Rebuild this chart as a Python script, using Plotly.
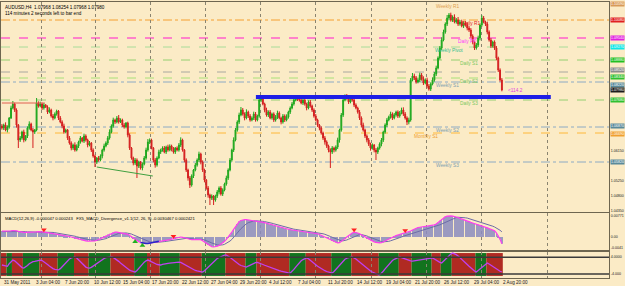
import plotly.graph_objects as go

# ---------------- data ----------------
first_open = 1.0690
close = [
    1.0684, 1.0693, 1.0678, 1.0687, 1.0714, 1.0744, 1.0756, 1.0738, 1.0693, 1.0648,
    1.0654, 1.0672, 1.0648, 1.0660, 1.0684, 1.0696, 1.0678, 1.0672, 1.0678, 1.0759,
    1.0750, 1.0756, 1.0744, 1.0753, 1.0747, 1.0732, 1.0738, 1.0720, 1.0714, 1.0726,
    1.0735, 1.0714, 1.0702, 1.0690, 1.0672, 1.0678, 1.0654, 1.0639, 1.0624, 1.0633,
    1.0618, 1.0630, 1.0642, 1.0654, 1.0645, 1.0660, 1.0648, 1.0633, 1.0639, 1.0618,
    1.0600, 1.0582, 1.0594, 1.0588, 1.0600, 1.0618, 1.0630, 1.0639, 1.0654, 1.0672,
    1.0690, 1.0708, 1.0702, 1.0714, 1.0702, 1.0708, 1.0693, 1.0687, 1.0699, 1.0663,
    1.0624, 1.0594, 1.0579, 1.0588, 1.0570, 1.0582, 1.0564, 1.0576, 1.0594, 1.0618,
    1.0642, 1.0648, 1.0624, 1.0588, 1.0573, 1.0594, 1.0612, 1.0618, 1.0624, 1.0612,
    1.0627, 1.0618, 1.0630, 1.0621, 1.0612, 1.0624, 1.0618, 1.0633, 1.0648, 1.0618,
    1.0588, 1.0558, 1.0534, 1.0513, 1.0540, 1.0558, 1.0573, 1.0588, 1.0606, 1.0582,
    1.0558, 1.0528, 1.0504, 1.0483, 1.0474, 1.0480, 1.0468, 1.0480, 1.0492, 1.0504,
    1.0486, 1.0498, 1.0516, 1.0534, 1.0558, 1.0588, 1.0618, 1.0648, 1.0678, 1.0702,
    1.0723, 1.0738, 1.0726, 1.0714, 1.0732, 1.0720, 1.0708, 1.0714, 1.0726, 1.0708,
    1.0720, 1.0768, 1.0774, 1.0756, 1.0738, 1.0723, 1.0732, 1.0714, 1.0726, 1.0708,
    1.0717, 1.0729, 1.0714, 1.0702, 1.0720, 1.0708, 1.0717, 1.0732, 1.0744, 1.0756,
    1.0768, 1.0774, 1.0771, 1.0768, 1.0759, 1.0768, 1.0756, 1.0744, 1.0762, 1.0750,
    1.0738, 1.0720, 1.0708, 1.0693, 1.0684, 1.0669, 1.0654, 1.0642, 1.0630, 1.0618,
    1.0612, 1.0624, 1.0618, 1.0627, 1.0648, 1.0678, 1.0723, 1.0768, 1.0780, 1.0774,
    1.0762, 1.0777, 1.0768, 1.0753, 1.0744, 1.0732, 1.0714, 1.0693, 1.0678, 1.0660,
    1.0648, 1.0636, 1.0624, 1.0633, 1.0618, 1.0612, 1.0624, 1.0636, 1.0648, 1.0672,
    1.0693, 1.0708, 1.0717, 1.0726, 1.0714, 1.0723, 1.0732, 1.0720, 1.0729, 1.0738,
    1.0726, 1.0714, 1.0702, 1.0708, 1.0828, 1.0840, 1.0834, 1.0822, 1.0828, 1.0843,
    1.0831, 1.0819, 1.0828, 1.0810, 1.0801, 1.0816, 1.0828, 1.0846, 1.0864, 1.0894,
    1.0924, 1.0948, 1.0972, 1.0996, 1.1014, 1.1023, 1.1008, 1.1017, 1.1002, 1.1008,
    1.0996, 1.1002, 1.0990, 1.0999, 1.0993, 1.0984, 1.0978, 1.0960, 1.0942, 1.0924,
    1.0933, 1.0954, 1.0993, 1.1014, 1.1002, 1.0996, 1.0972, 1.0948, 1.0930, 1.0942,
    1.0924, 1.0894, 1.0858, 1.0828, 1.0798,
]
# wick lengths in pips above / below the candle body
up_wick = [
    6, 4, 8, 5, 3, 7, 9, 4, 5, 3, 6, 4, 7, 3, 5, 8, 4, 6, 3, 15,
    5, 7, 4, 6, 3, 5, 8, 4, 6, 5, 4, 3, 6, 5, 7, 4, 3, 6, 5, 4,
    8, 5, 4, 6, 3, 7, 5, 4, 6, 3, 5, 4, 3, 6, 5, 4, 7, 5, 6, 8,
    5, 7, 4, 6, 9, 5, 4, 6, 3, 4, 5, 3, 4, 6, 5, 4, 3, 5, 6, 7,
    9, 5, 4, 3, 6, 5, 7, 4, 5, 6, 4, 7, 5, 4, 6, 3, 5, 6, 8, 4,
    3, 5, 4, 6, 5, 3, 6, 5, 7, 4, 5, 4, 3, 6, 4, 5, 3, 4, 6, 5,
    6, 5, 4, 7, 5, 6, 4, 8, 6, 5, 7, 9, 6, 5, 8, 4, 6, 5, 7, 6,
    4, 8, 6, 5, 4, 7, 5, 6, 4, 5, 6, 7, 5, 4, 6, 5, 8, 4, 5, 6,
    7, 5, 6, 4, 5, 8, 6, 4, 5, 6, 4, 5, 6, 4, 3, 5, 4, 6, 5, 4,
    5, 6, 4, 5, 7, 4, 6, 9, 5, 6, 7, 5, 4, 6, 5, 4, 6, 5, 7, 4,
    5, 6, 4, 5, 3, 6, 4, 5, 6, 4, 5, 6, 4, 7, 5, 6, 4, 5, 6, 7,
    8, 6, 5, 7, 6, 9, 7, 6, 5, 7, 6, 8, 5, 7, 6, 5, 8, 6, 7, 5,
    6, 8, 7, 5, 9, 6, 7, 5, 8, 6, 9, 6, 7, 5, 6, 8, 7, 6, 5, 4,
    6, 7, 5, 8, 6, 4, 7, 5, 6, 4, 5, 6, 4, 5, 6,
]
dn_wick = [
    5, 6, 4, 7, 5, 3, 4, 6, 8, 24, 6, 5, 7, 4, 6, 5, 4, 48, 6, 4,
    5, 4, 6, 5, 3, 6, 4, 5, 7, 4, 5, 6, 4, 7, 5, 4, 6, 5, 7, 6,
    5, 4, 6, 5, 4, 6, 5, 7, 4, 6, 5, 15, 6, 5, 4, 7, 5, 4, 6, 5,
    4, 5, 6, 4, 5, 3, 6, 5, 4, 7, 6, 5, 7, 6, 36, 6, 5, 7, 4, 5,
    5, 6, 4, 7, 8, 5, 4, 6, 5, 4, 6, 5, 4, 7, 5, 6, 4, 5, 6, 5,
    7, 6, 8, 9, 5, 6, 4, 5, 6, 7, 6, 7, 5, 8, 21, 6, 15, 5, 6, 7,
    5, 6, 4, 5, 6, 4, 5, 6, 4, 5, 6, 4, 5, 7, 4, 6, 5, 4, 6, 5,
    4, 5, 6, 4, 7, 5, 6, 4, 5, 6, 5, 6, 4, 7, 5, 6, 4, 5, 6, 4,
    5, 4, 6, 5, 4, 6, 5, 7, 4, 5, 6, 5, 4, 6, 7, 5, 6, 8, 6, 7,
    48, 6, 7, 5, 6, 8, 5, 6, 4, 5, 6, 4, 5, 6, 4, 5, 6, 7, 5, 6,
    7, 6, 8, 5, 7, 24, 6, 5, 7, 6, 5, 6, 4, 5, 6, 4, 5, 6, 5, 4,
    6, 5, 9, 7, 5, 4, 6, 5, 4, 6, 5, 6, 4, 7, 5, 6, 4, 5, 6, 4,
    5, 6, 4, 5, 6, 7, 5, 6, 4, 5, 6, 5, 4, 6, 5, 7, 6, 5, 7, 6,
    5, 6, 7, 5, 4, 6, 7, 5, 6, 5, 6, 7, 6, 5, 4,
]
# MACD main / signal in units of 0.0001
macd = [
    22, 22, 21, 21, 22, 23, 24, 24, 23, 21, 19, 18, 17, 17, 17, 17,
    17, 17, 18, 19, 20, 20, 19, 18,
    17, 16, 15, 14, 13, 12, 11, 10, 9, 8, 6, 5, 3, 2, 0, -2, -4,
    -6, -8, -10, -12, -13, -14, -15, -15, -15, -15, -14, -12, -9, -6,
    -3, 1, 5, 9, 12, 15, 17, 18,
    18, 17, 16, 15, 14, 13,
    10, 6, 1, -4, -9, -13, -17, -20,
    -22, -23, -24, -24, -23, -22, -21, -19,
    -17, -16, -15, -14, -13, -12, -11, -10,
    -8, -6, -4, -3, -1, 0,
    -1, -3, -5, -7, -9, -10, -10, -10, -9, -9, -10,
    -14, -19, -24, -29, -33, -36, -37, -36,
    -34, -31, -27, -22, -16, -9, -1, 8, 18, 28, 38, 48, 57,
    61, 63, 64, 64, 63, 62, 61, 60, 59,
    58, 58, 57, 55, 53, 51, 49, 47, 45, 43, 41, 39, 37, 35, 33, 31, 29, 28, 27,
    26, 25, 24, 23, 22, 21, 20, 19, 19, 18, 18, 17, 16, 14, 12, 9,
    6, 3, 0, -3, -7, -11, -15, -18, -20, -22, -21,
    -17, -12, -6, 0, 6, 11, 15, 18,
    17, 15, 12, 8, 4, 0, -4, -8, -12,
    -15, -18, -20, -22, -22, -21, -19, -15,
    -11, -7, -4, -1, 2, 5, 7, 9, 11, 13, 15,
    17, 19, 22, 26, 30, 33, 35, 36, 37, 38, 39, 40, 41, 42, 43, 45, 48, 53, 60,
    66, 71, 75, 77, 78, 78, 77, 76, 74, 72, 69,
    66, 63, 60, 58, 56, 54, 52, 50, 48, 46, 44,
    42, 40, 37, 34, 31, 28, 26, 23,
    15, 5, -8, -25,
]
signal = [
    20, 20, 20, 20, 21, 21, 22, 22, 22, 22, 22, 21, 20, 20, 19, 19,
    18, 18, 18, 18, 18, 19, 19, 19,
    19, 18, 18, 17, 17, 16, 15, 14, 13, 12, 11, 10, 9, 7, 6, 4, 3,
    1, -1, -3, -5, -6, -8, -9, -10, -11, -12, -13, -13, -12, -11,
    -10, -8, -6, -3, 0, 3, 6, 9,
    11, 13, 14, 15, 15, 15,
    14, 13, 11, 8, 5, 2, -2, -5,
    -8, -11, -14, -16, -18, -19, -20, -20,
    -20, -19, -19, -18, -17, -16, -15, -14,
    -13, -12, -10, -9, -8, -6,
    -5, -5, -5, -5, -6, -6, -7, -7, -8, -8, -8,
    -9, -11, -13, -16, -19, -22, -25, -27,
    -29, -30, -30, -29, -27, -24, -20, -15, -9, -2, 6, 14, 23,
    31, 38, 44, 49, 53, 56, 58, 59, 60,
    60, 60, 59, 58, 57, 56, 54, 53, 51, 49, 47, 45, 43, 41, 39, 37, 35, 33, 31,
    30, 29, 28, 27, 26, 25, 24, 23, 22, 21, 20, 20, 19, 18, 17, 16,
    14, 12, 10, 8, 5, 2, -1, -4, -7, -10, -12,
    -14, -14, -13, -11, -8, -5, -1, 3,
    6, 8, 9, 9, 8, 6, 4, 1, -2,
    -5, -8, -11, -13, -15, -17, -18, -18,
    -17, -16, -14, -12, -10, -7, -5, -2, 0, 3, 5,
    7, 9, 11, 13, 16, 18, 21, 23, 25, 27, 29, 31, 33, 35, 36, 38, 40, 42, 45,
    48, 51, 55, 58, 62, 65, 68, 70, 72, 73, 73,
    73, 72, 71, 70, 68, 66, 64, 62, 60, 58, 56,
    54, 52, 50, 47, 45, 42, 40, 37,
    34, 30, 25, 19,
]
# oscillator line of the lower coloured panel (0..100)
stoch = [
    50, 48, 46, 45, 55, 63, 69, 66, 60, 52, 45, 40, 38,
    42, 48, 55, 60, 63, 64, 66, 68, 69,
    67, 63, 58, 52, 46, 40, 36, 33, 32, 31,
    36, 44, 52, 60, 67, 73, 77, 80, 81,
    77, 70, 62, 54, 47, 42, 39, 38,
    41, 46, 52, 58, 63, 68, 72, 75, 78, 80, 81, 81,
    79, 75, 70, 64, 58, 52, 46, 40, 35, 30, 27, 24, 23,
    29, 38, 47, 55, 61, 66, 69,
    66, 62, 58, 55, 52, 51, 50,
    52, 54, 55, 56, 57, 58, 59, 60, 60, 61, 60,
    56, 51, 46, 42, 38, 34, 31, 29, 27, 25, 24, 23,
    28, 35, 43, 51, 58, 64, 70, 75, 79, 83, 86, 88, 88,
    85, 80, 74, 68, 62, 57, 52, 48, 45, 43, 42,
    46, 50, 54, 57, 59, 60,
    58, 55, 52, 49, 46, 43, 40, 37, 34, 32, 30, 28, 26, 24, 22, 21, 20, 19,
    25, 33, 42, 51, 59, 66, 71, 75, 77,
    74, 69, 63, 57, 51, 45, 40, 35, 31, 28, 25, 22, 20, 19,
    25, 33, 42, 51, 59, 66, 72, 76, 79, 80, 81,
    78, 73, 67, 61, 55, 49, 43, 37, 32, 27, 23, 19, 16, 13, 12,
    18, 26, 35, 44, 52, 60, 67, 72, 76, 79, 81,
    78, 75, 72, 69, 67, 66, 65,
    66, 67, 68, 70, 71, 72, 73, 74, 75, 76, 77,
    73, 68, 64, 60, 58,
    65, 73, 80, 86, 92, 96,
    94, 90, 85, 79, 73, 66, 59, 52, 45, 38, 32, 27, 23,
    29, 36, 43, 49, 54, 58,
    54, 49, 44, 39, 34, 30, 26, 23,
]
# coloured blocks of the lower panel: (first bar, last bar, colour)
band_segments = [
    (0, 3, "r"), (3, 6, "g"), (6, 12, "r"), (12, 21, "g"), (21, 31, "r"), (31, 40, "g"),
    (40, 48, "r"), (48, 60, "g"), (60, 73, "r"), (73, 80, "g"), (80, 87, "r"), (87, 98, "g"),
    (98, 110, "r"), (110, 123, "g"), (123, 134, "r"), (134, 140, "g"), (140, 158, "r"),
    (158, 167, "g"), (167, 181, "r"), (181, 192, "g"), (192, 207, "r"), (207, 218, "g"),
    (218, 225, "r"), (225, 236, "g"), (236, 241, "r"), (241, 247, "g"), (247, 260, "r"),
    (260, 266, "g"), (266, 275, "r"),
]
band_levels = [80, 15]
band_level_text = ["4.0000", "-4.000"]

# time labels: (bar index, text)
time_labels = [
    (0, "31 May 2011"), (19, "3 Jun 04:00"), (35, "7 Jun 20:00"), (51, "10 Jun 12:00"),
    (67, "15 Jun 04:00"), (83, "17 Jun 20:00"), (99, "22 Jun 12:00"), (115, "27 Jun 04:00"),
    (131, "29 Jun 20:00"), (147, "4 Jul 12:00"), (163, "7 Jul 04:00"), (179, "11 Jul 20:00"),
    (195, "14 Jul 12:00"), (211, "19 Jul 04:00"), (227, "21 Jul 20:00"), (243, "26 Jul 12:00"),
    (259, "29 Jul 04:00"), (275, "2 Aug 20:00"),
]
grid_bars = [21.5, 51.5, 81.6, 111.8, 141.9, 172.1, 202.7, 232.9, 263.0, 299.2]

price_ticks = [1.0435, 1.0480, 1.0525, 1.0570, 1.0615, 1.0660, 1.0705, 1.0750,
               1.0795, 1.0840, 1.0885, 1.0930, 1.0975, 1.1020]
macd_ticks = [77.1, 0, -41.5]
macd_tick_text = ["0.00771", "0.00", "-0.0041"]

# pivot levels: (label, price, line colour, dash, box colour, label bar, label colour, box nudge px)
pivots = [
    ("Weekly R1", 1.1059, None, None, "#D89A58", 237, "#E0A050", -1),
    ("Daily R1", 1.1008, "#F5A030", "dashdot", "#E02020", 251, "#E02020", 0),
    ("Daily PP", 1.0954, "#FF60CC", "dash", "#E020E0", 249, "#FF40FF", 0),
    ("Weekly Pivot", 1.0927, "#A8DC98", "dash", "#10E8E8", 236, "#30C090", 0),
    ("Daily S1", 1.0888, "#94D070", "dash", "#22C022", 250, "#7CC860", 0),
    ("", 1.0852, "#A8A8A0", "dash", "#8C8C8C", 0, "#888888", 2),
    ("Daily S2", 1.0834, "#A8E078", "dash", "#30C030", 250, "#7CC860", 1),
    ("Weekly S1", 1.0822, "#8CAAC4", "dashdot", "#5A8A9A", 237, "#80A0B0", -3),
    ("Daily S3", 1.0768, "#94D070", "dash", "#30C030", 250, "#7CC860", 0),
    ("Weekly S2", 1.0687, "#8CAAC4", "dashdot", "#5A8A9A", 237, "#80A0B0", 1),
    ("Monthly S1", 1.0669, "#FFB838", "dash", "#F0A030", 225, "#F0A030", -1),
    ("Weekly S3", 1.0582, "#8CAAC4", "dashdot", "#5A8A9A", 237, "#80A0B0", 0),
]
# hand-drawn lines: (bar0, price0, bar1, price1, colour, width)
drawn_lines = [
    (139.2, 1.0777, 300.8, 1.0777, "#1E1EE6", 4),
    (0.0, 1.0759, 23.5, 1.0759, "#E06050", 1),
    (52.0, 1.0567, 82.7, 1.0540, "#40A040", 1),
]
red_arrow_bars = [23, 94, 193, 221]
green_arrow_bars = [73, 77]
divergence_span = (76, 86)

# ---------------- build ----------------
N = len(close)
for nm, arr in [("up_wick", up_wick), ("dn_wick", dn_wick), ("macd", macd),
                ("signal", signal), ("stoch", stoch)]:
    assert len(arr) == N, (nm, len(arr), N)

bars = list(range(N))
opens = [first_open] + close[:-1]
highs = [max(o, c) + u / 10000 for o, c, u in zip(opens, close, up_wick)]
lows = [min(o, c) - d / 10000 for o, c, d in zip(opens, close, dn_wick)]

BG = "#FBEBC6"
FRAME = "#6E6650"
FONT = "Liberation Sans"
GREEN = "#1FA81F"
RED = "#D42020"
RSIZE = 3.6   # right-hand scale text (narrow strip, as in the original)

fig = go.Figure()
fig.add_trace(go.Candlestick(
    x=bars, open=opens, high=highs, low=lows, close=close,
    increasing=dict(line=dict(color=GREEN, width=1), fillcolor=GREEN),
    decreasing=dict(line=dict(color=RED, width=1), fillcolor=RED),
    whiskerwidth=0, xaxis="x", yaxis="y", hoverinfo="skip"))

# MACD panel
fig.add_trace(go.Bar(x=bars, y=macd, width=0.36, opacity=0.85,
                     marker=dict(color="#8C8CC0", line=dict(width=0)),
                     xaxis="x2", yaxis="y2", hoverinfo="skip"))
fig.add_trace(go.Scatter(x=bars, y=signal, mode="lines", line=dict(color="#6C6CA8", width=1),
                         xaxis="x2", yaxis="y2", hoverinfo="skip"))
fig.add_trace(go.Scatter(x=bars, y=macd, mode="lines", line=dict(color="#FF3CF0", width=1.2),
                         xaxis="x2", yaxis="y2", hoverinfo="skip"))
d0, d1 = divergence_span
fig.add_trace(go.Scatter(x=bars[d0:d1 + 1], y=macd[d0:d1 + 1], mode="lines",
                         line=dict(color="#2828C8", width=1.5), xaxis="x2", yaxis="y2", hoverinfo="skip"))
fig.add_trace(go.Scatter(x=red_arrow_bars, y=[macd[b] + 9 for b in red_arrow_bars], mode="markers",
                         marker=dict(symbol="triangle-down", size=5, color="#FF2020"),
                         xaxis="x2", yaxis="y2", hoverinfo="skip"))
fig.add_trace(go.Scatter(x=green_arrow_bars, y=[macd[b] - 9 for b in green_arrow_bars], mode="markers",
                         marker=dict(symbol="triangle-up", size=5, color="#20B020"),
                         xaxis="x2", yaxis="y2", hoverinfo="skip"))

# lower panel oscillator
fig.add_trace(go.Scatter(x=bars, y=stoch, mode="lines", line=dict(color="#C040F0", width=1.3),
                         xaxis="x3", yaxis="y3", hoverinfo="skip"))

shapes = []
for s0, s1, col in band_segments:
    shapes.append(dict(type="rect", xref="x3", yref="y3", x0=s0 - 0.5, x1=min(s1, N) - 0.5,
                       y0=8, y1=96, fillcolor="#B02A22" if col == "r" else "#12731E",
                       line=dict(width=0), layer="below"))
for lv in band_levels:
    shapes.append(dict(type="line", xref="paper", yref="y3", x0=0, x1=1, y0=lv, y1=lv,
                       line=dict(color="#3A3A3A", width=1.5)))
for name, price, lcol, dash, bcol, lbar, tcol, nudge in pivots:
    if lcol:
        shapes.append(dict(type="line", xref="paper", yref="y", x0=0, x1=1, y0=price, y1=price,
                           line=dict(color=lcol, width=1.4 if "PP" in name else 1, dash=dash),
                           layer="below"))
for b0, p0, b1, p1, col, w in drawn_lines:
    shapes.append(dict(type="line", xref="x", yref="y", x0=b0, x1=b1, y0=p0, y1=p1,
                       line=dict(color=col, width=w)))

# price ticks that would sit under a coloured box are not shown
box_prices = [p[1] for p in pivots] + [close[-1]]
shown_ticks = [t for t in price_ticks if all(abs(t - bp) > 0.0021 for bp in box_prices)]

ann = []
for name, price, lcol, dash, bcol, lbar, tcol, nudge in pivots:
    if name:
        ann.append(dict(xref="x", yref="y", x=lbar, y=price, yshift=-3, xanchor="left",
                        yanchor="middle", text=name, showarrow=False,
                        font=dict(family=FONT, size=4.8, color=tcol)))
    ann.append(dict(xref="paper", yref="y", x=1, y=price, xanchor="left", xshift=1, yshift=nudge,
                    yanchor="middle", text="%.5f" % price, showarrow=False, bgcolor=bcol,
                    borderpad=0, font=dict(family=FONT, size=RSIZE, color="#FFFFFF")))
ann.append(dict(xref="paper", yref="y", x=1, y=close[-1], xanchor="left", xshift=1,
                yanchor="middle", text="%.5f" % close[-1], showarrow=False, bgcolor="#1C1C1C",
                borderpad=0, font=dict(family=FONT, size=RSIZE, color="#FFFFFF")))
ann.append(dict(xref="x", yref="y", x=N + 1, y=close[-1], xanchor="left", yanchor="middle",
                text="&lt;114.2", showarrow=False, font=dict(family=FONT, size=4.8, color="#E040E0")))
ann.append(dict(xref="paper", yref="paper", x=0, y=1, xanchor="left", yanchor="top", xshift=2,
                yshift=-1, showarrow=False, align="left",
                text="AUDUSD,H4  1.07968 1.08254 1.07968 1.07980<br>114 minutes 2 seconds left to bar end",
                font=dict(family=FONT, size=4.6, color="#000000")))
ann.append(dict(xref="paper", yref="paper", x=0, y=0.2355, xanchor="left", yanchor="top", xshift=2,
                yshift=-1, showarrow=False,
                text="MACD(12,26,9) -0.000047 0.000243   FX5_MACD_Divergence_v1.1(12, 26, 9) -0.0030467 0.0002421",
                font=dict(family=FONT, size=4.2, color="#000000")))
for b, t in time_labels:
    ann.append(dict(xref="x", yref="paper", x=b, y=0, xanchor="left", yanchor="top",
                    xshift=0 if b == 0 else -3, yshift=0, text=t, showarrow=False,
                    font=dict(family=FONT, size=4.6, color="#202020")))

xcommon = dict(range=[-0.5, 332.7], showticklabels=False, ticks="", tickvals=grid_bars,
               showgrid=True, gridcolor="#8A8470", griddash="dot", gridwidth=1, zeroline=False,
               showline=True, linecolor=FRAME, linewidth=1, mirror=True, fixedrange=True,
               automargin=False)
ycommon = dict(side="right", showgrid=False, zeroline=False, ticks="", showline=True,
               linecolor=FRAME, linewidth=1, mirror=True, fixedrange=True, automargin=False,
               ticklabelstandoff=0,
               tickfont=dict(family=FONT, size=RSIZE, color="#1A1A1A"))

fig.update_layout(
    width=625, height=286, margin=dict(l=1, r=16, t=2, b=8, autoexpand=False),
    paper_bgcolor=BG, plot_bgcolor=BG, showlegend=False, hovermode=False,
    xaxis=dict(domain=[0, 1], anchor="y", rangeslider=dict(visible=False), **xcommon),
    xaxis2=dict(domain=[0, 1], anchor="y2", matches="x", **xcommon),
    xaxis3=dict(domain=[0, 1], anchor="y3", matches="x", **xcommon),
    yaxis=dict(domain=[0.2391, 1], anchor="x", range=[1.0432, 1.1062], tickvals=shown_ticks,
               ticktext=["%.5f" % v for v in shown_ticks], **ycommon),
    yaxis2=dict(domain=[0.1014, 0.2355], anchor="x2", range=[-48.1, 88.8], tickvals=macd_ticks,
                ticktext=macd_tick_text, **ycommon),
    yaxis3=dict(domain=[0, 0.0942], anchor="x3", range=[0, 100], tickvals=band_levels,
                ticktext=band_level_text, **ycommon),
    shapes=shapes, annotations=ann,
)

fig.write_html("out.html")
